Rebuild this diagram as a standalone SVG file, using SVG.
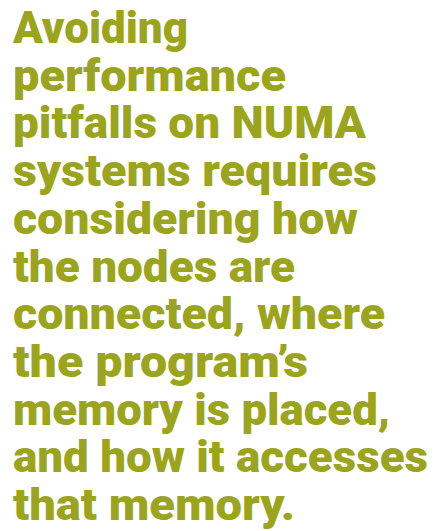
<svg xmlns="http://www.w3.org/2000/svg" width="435" height="531" viewBox="0 0 435 531">
<style>
text{font-family:Roboto,"Liberation Sans",sans-serif;font-weight:900;font-size:44px;fill:#9ba41d}
</style>
<rect width="435" height="531" fill="#ffffff"/>
<g id="headline">
<text x="13" y="43" textLength="175" lengthAdjust="spacingAndGlyphs">Avoiding</text>
<text x="13" y="90.7" textLength="273" lengthAdjust="spacingAndGlyphs">performance</text>
<text x="13" y="138.4" textLength="353" lengthAdjust="spacingAndGlyphs">pitfalls on NUMA</text>
<text x="13" y="186.1" textLength="364" lengthAdjust="spacingAndGlyphs">systems requires</text>
<text x="13" y="233.8" textLength="345" lengthAdjust="spacingAndGlyphs">considering how</text>
<text x="13" y="281.5" textLength="282" lengthAdjust="spacingAndGlyphs">the nodes are</text>
<text x="13" y="329.2" textLength="372" lengthAdjust="spacingAndGlyphs">connected, where</text>
<text x="13" y="376.9" textLength="295" lengthAdjust="spacingAndGlyphs">the program’s</text>
<text x="13" y="424.6" textLength="377" lengthAdjust="spacingAndGlyphs">memory is placed,</text>
<text x="13" y="472.3" textLength="415" lengthAdjust="spacingAndGlyphs">and how it accesses</text>
<text x="13" y="520" textLength="282" lengthAdjust="spacingAndGlyphs">that memory.</text>
</g>
</svg>
